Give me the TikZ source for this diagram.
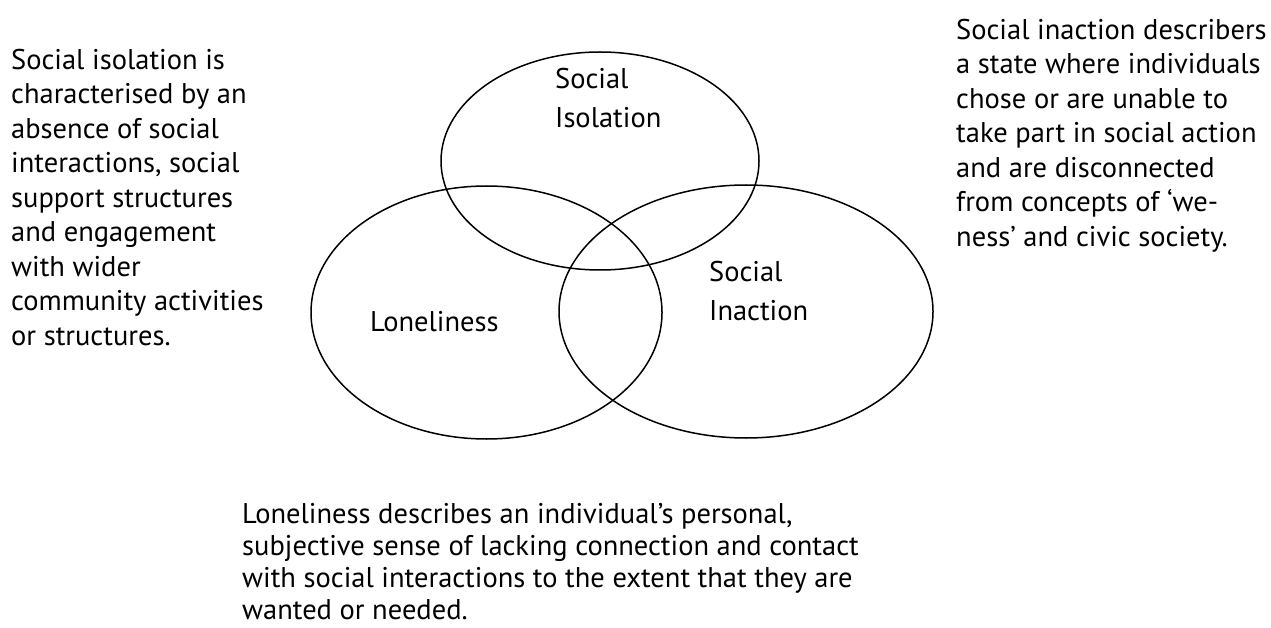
\documentclass[tikz,border=0pt]{standalone}
\usepackage{fontspec}
\setmainfont{PT Sans}
\usetikzlibrary{shapes.geometric}
\begin{document}
\begin{tikzpicture}[x=1pt,y=-1pt,
  ring/.style={draw=black,line width=1.5pt,ellipse,inner sep=0pt},
  para/.style={anchor=north west,inner sep=0pt,align=left,
    font=\fontsize{28.5}{34.5}\selectfont},
  tag/.style={anchor=north west,inner sep=0pt,align=left,
    font=\fontsize{28.5}{39}\selectfont}]
\useasboundingbox (0,0) rectangle (1271,628);

% the three overlapping sets
\node[ring,minimum width=318,minimum height=218] (iso) at (600,161) {};
\node[ring,minimum width=351,minimum height=253] (lon) at (486.5,312.5) {};
\node[ring,minimum width=374,minimum height=253] (ina) at (746,311.5) {};

% set names
\node[tag] (isoname) at (555,68) {Social\\Isolation};
\node[tag] (inaname) at (709,261) {Social\\Inaction};
\node[tag] (lonname) at (370,311) {Loneliness};

% definitions
\node[para] (isotext) at (11,49) {Social isolation is\\characterised by an\\absence of social\\interactions, social\\support structures\\and engagement\\with wider\\community activities\\or structures.};
\node[para] (inatext) at (956,19) {Social inaction describers\\a state where individuals\\chose or are unable to\\take part in social action\\and are disconnected\\from concepts of ‘we-\\ness’ and civic society.};
\node[para,font=\fontsize{28.5}{32}\selectfont] (lontext) at (242,503) {Loneliness describes an individual’s personal,\\subjective sense of lacking connection and contact\\with social interactions to the extent that they are\\wanted or needed.};
\end{tikzpicture}
\end{document}
